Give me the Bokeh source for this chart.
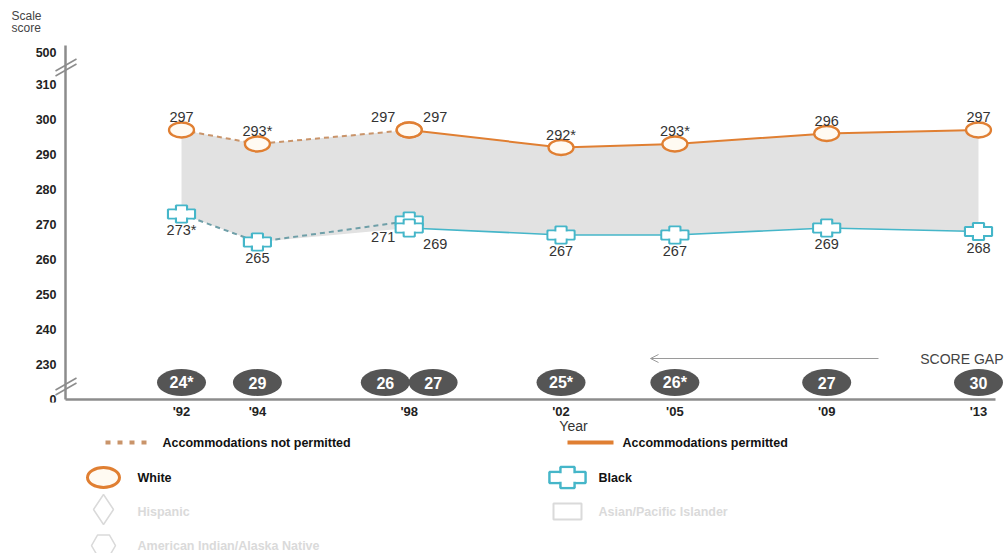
from bokeh.plotting import figure
from bokeh.layouts import column
from bokeh.models import Range1d, FixedTicker, Label, Arrow, OpenHead, LinearAxis
from bokeh.core.properties import value
from bokeh.embed import file_html
from bokeh.resources import INLINE

# ---------------- data ----------------
years_np = [1992, 1994, 1998]              # accommodations not permitted
white_np = [297, 293, 297]
white_np_sig = [False, True, False]
black_np = [273, 265, 271]
black_np_sig = [True, False, False]
gap_np = [24, 29, 26]
gap_np_sig = [True, False, False]

years_p = [1998, 2002, 2005, 2009, 2013]   # accommodations permitted
white_p = [297, 292, 293, 296, 297]
white_p_sig = [False, True, True, False, False]
black_p = [269, 267, 267, 269, 268]
black_p_sig = [False, False, False, False, False]
gap_p = [27, 25, 26, 27, 30]
gap_p_sig = [False, True, True, False, False]

year_tick_labels = ["'92", "'94", "'98", "'02", "'05", "'09", "'13"]
score_ticks = [0, 230, 240, 250, 260, 270, 280, 290, 300, 310, 500]

# ---------------- styling / layout ----------------
FONT = "Liberation Sans"
ORANGE = "#e07f32"
ORANGE_DASH = "#c9946a"
TEAL = "#45b6c9"
TEAL_DASH = "#6f9fa8"
BAND = "#e2e2e2"
GAPC = "#555555"
TXT = "#333333"
AXC = "#8c8c8c"

W = 1006
FW, FH = 1006, 402          # plot frame (page pixels 0..1006 x 0..402)
H_TOP = 437                 # expected height of the upper figure incl. its axes
H_LEG = 554 - H_TOP
PX_YEAR = 797 / 21.0
X0 = 1992 - 181 / PX_YEAR
X1 = X0 + FW / PX_YEAR
PX_UNIT = 3.5
Y0 = 230 - (FH - 364) / PX_UNIT
Y1 = Y0 + FH / PX_UNIT


def xd(px):
    return X0 + px / PX_YEAR


def yd(py):
    return Y0 + (FH - py) / PX_UNIT


BREAK_HI, BREAK_LO = yd(52), yd(399)


def disp(v):
    if v > 310:
        return BREAK_HI
    if v < 230:
        return BREAK_LO
    return v


def star(vals, sig):
    return [f"{v}*" if s else f"{v}" for v, s in zip(vals, sig)]


shared = set(years_np) & set(years_p)
off_np = [-26 if y in shared else 0 for y in years_np]
off_p = [26 if y in shared else 0 for y in years_p]

p = figure(frame_width=FW, frame_height=FH, x_range=Range1d(X0, X1), y_range=Range1d(Y0, Y1),
           output_backend="svg", toolbar_location=None, y_axis_location=None,
           min_border_left=0, min_border_right=0, min_border_top=0, min_border_bottom=0)
p.grid.visible = False
p.outline_line_color = None
p.background_fill_color = "white"
p.border_fill_color = "white"

# x axis (ticks as labels only; line drawn below)
all_years = sorted(set(years_np) | set(years_p))
p.xaxis.ticker = FixedTicker(ticks=all_years)
p.xaxis.major_label_overrides = {y: lab for y, lab in zip(all_years, year_tick_labels)}
p.xaxis.axis_line_color = None
p.xaxis.major_tick_line_color = None
p.xaxis.minor_tick_line_color = None
p.xaxis.major_tick_out = 0
p.xaxis.major_tick_in = 0
p.xaxis.minor_tick_out = 0
p.xaxis.minor_tick_in = 0
p.xaxis.major_label_text_font = FONT
p.xaxis.major_label_text_font_style = "bold"
p.xaxis.major_label_text_color = "#222222"
p.xaxis.major_label_text_font_size = "13px"
p.xaxis.major_label_standoff = 1

YEAR_X = xd(573)
year_axis = LinearAxis(ticker=FixedTicker(ticks=[YEAR_X]), major_label_overrides={YEAR_X: "Year"},
                       axis_line_color=None, major_tick_line_color=None, minor_tick_line_color=None,
                       major_tick_out=0, major_tick_in=0, minor_tick_out=0, minor_tick_in=0,
                       major_label_standoff=-4, major_label_text_font=FONT,
                       major_label_text_font_size="14px", major_label_text_color=TXT)
p.add_layout(year_axis, "below")

# axis lines
p.line([xd(65), xd(65)], [yd(45), yd(399)], line_color=AXC, line_width=2.5)
p.line([xd(65), xd(995)], [yd(399), yd(399)], line_color=AXC, line_width=2.5)

# y tick labels (broken scale)
p.text([xd(56)] * len(score_ticks), [disp(v) for v in score_ticks], text=[str(v) for v in score_ticks],
       text_font=value(FONT), text_font_size="12.5px", text_font_style="bold", text_color="#222222",
       text_align="right", text_baseline="middle")

# band between groups
band_x = years_np[:-1] + years_p
band_top = white_np[:-1] + white_p
band_bot = black_np[:-1] + black_p
p.varea(x=band_x, y1=band_bot, y2=band_top, fill_color=BAND)

# lines
p.line(years_np, white_np, line_color=ORANGE_DASH, line_width=2, line_dash="5 4")
p.line(years_np, black_np, line_color=TEAL_DASH, line_width=2, line_dash="5 4")
p.line(years_p, white_p, line_color=ORANGE, line_width=2)
p.line(years_p, black_p, line_color=TEAL, line_width=1.6)


def draw_cross(fig, xs, ys, w, h, aw, ah, lw):
    kw = dict(width_units="screen", height_units="screen")
    fig.rect(xs, ys, width=w, height=ah, fill_color="white", line_color=TEAL, line_width=lw, **kw)
    fig.rect(xs, ys, width=aw, height=h, fill_color="white", line_color=TEAL, line_width=lw, **kw)
    fig.rect(xs, ys, width=w - lw, height=ah - lw, fill_color="white", line_color=None, **kw)
    fig.rect(xs, ys, width=aw - lw, height=h - lw, fill_color="white", line_color=None, **kw)


# markers
for yrs, vals in ((years_np, white_np), (years_p, white_p)):
    p.ellipse(yrs, vals, width=25, height=15, width_units="screen", height_units="screen",
              fill_color="#fffaf2", line_color=ORANGE, line_width=2.3)
draw_cross(p, years_np, black_np, 27, 17, 11, 9, 2.2)
draw_cross(p, years_p, black_p, 27, 17, 11, 9, 2.2)

# value labels
lab_kw = dict(text_font=value(FONT), text_font_size="14.5px", text_color=TXT,
              text_align="center", text_baseline="middle")
p.text(years_np, white_np, text=star(white_np, white_np_sig), x_offset=off_np, y_offset=-13, **lab_kw)
p.text(years_p, white_p, text=star(white_p, white_p_sig), x_offset=off_p, y_offset=-13, **lab_kw)
p.text(years_np, black_np, text=star(black_np, black_np_sig), x_offset=off_np, y_offset=16, **lab_kw)
p.text(years_p, black_p, text=star(black_p, black_p_sig), x_offset=off_p, y_offset=16, **lab_kw)

# score gap ellipses
GAP_Y = yd(382)
gx = [y + o * 0.92 / PX_YEAR for y, o in zip(years_np, off_np)] + \
     [y + o * 0.92 / PX_YEAR for y, o in zip(years_p, off_p)]
gv = star(gap_np, gap_np_sig) + star(gap_p, gap_p_sig)
gy = [GAP_Y] * len(gx)
p.ellipse(gx, gy, width=49, height=27, width_units="screen", height_units="screen",
          fill_color=GAPC, line_color=None)
p.text(gx, gy, text=gv, text_font=value(FONT), text_font_size="16px", text_font_style="bold",
       text_color="white", text_align="center", text_baseline="middle")

# score gap arrow and label
p.add_layout(Arrow(end=OpenHead(size=8, line_color="#9a9a9a", line_width=1),
                   x_start=xd(878), y_start=yd(358), x_end=xd(650), y_end=yd(358),
                   line_color="#9a9a9a", line_width=1))
p.add_layout(Label(x=xd(1003), y=yd(358), text="SCORE GAP", text_align="right",
                   text_baseline="middle", text_font=FONT, text_font_size="14px",
                   text_color="#444444"))

# y axis title
p.add_layout(Label(x=xd(11), y=yd(15), text="Scale", text_align="left",
                   text_baseline="middle", text_font=FONT, text_font_size="12px", text_color="#444444"))
p.add_layout(Label(x=xd(11), y=yd(27), text="score", text_align="left",
                   text_baseline="middle", text_font=FONT, text_font_size="12px", text_color="#444444"))

# axis break marks
for cy in (67, 386):
    for dy in (-2.5, 2.5):
        p.add_layout(Arrow(end=None, x_start=xd(55), y_start=yd(cy + dy + 6),
                           x_end=xd(76), y_end=yd(cy + dy - 6),
                           line_color=AXC, line_width=1.6))

# ---------------- legend figure ----------------
q = figure(width=W, height=H_LEG, x_range=Range1d(0, W), y_range=Range1d(H_LEG, 0),
           output_backend="svg", toolbar_location=None, x_axis_type=None, y_axis_type=None,
           min_border=0)
q.grid.visible = False
q.outline_line_color = None

LY = [443 - H_TOP, 478 - H_TOP, 512 - H_TOP, 546 - H_TOP]
leg_kw = dict(text_font=value(FONT), text_font_size="12.5px", text_font_style="bold",
              text_align="left", text_baseline="middle")
q.line([105, 150], [LY[0], LY[0]], line_color=ORANGE_DASH, line_width=4, line_dash="5 7")
q.text([162], [LY[0]], text=["Accommodations not permitted"], text_color="#111111", **leg_kw)
q.line([567, 613], [LY[0], LY[0]], line_color=ORANGE, line_width=4)
q.text([622], [LY[0]], text=["Accommodations permitted"], text_color="#111111", **leg_kw)

q.ellipse([103], [LY[1]], width=32, height=20, width_units="screen", height_units="screen",
          fill_color="#fffaf2", line_color=ORANGE, line_width=3)
q.text([137], [LY[1]], text=["White"], text_color="#111111", **leg_kw)
draw_cross(q, [567], [LY[1]], 36, 21, 14, 11, 2.6)
q.text([598], [LY[1]], text=["Black"], text_color="#111111", **leg_kw)

LIGHT = "#dadada"
q.scatter([103], [LY[2] - 2], marker="diamond", size=30, fill_color="white",
          line_color=LIGHT, line_width=1.5)
q.text([137], [LY[2]], text=["Hispanic"], text_color=LIGHT, **leg_kw)
q.rect([567], [LY[2]], width=28, height=16, width_units="screen", height_units="screen",
       fill_color="white", line_color=LIGHT, line_width=2)
q.text([598], [LY[2]], text=["Asian/Pacific Islander"], text_color=LIGHT, **leg_kw)
q.scatter([103], [LY[3]], marker="hex", size=24, fill_color="white",
          line_color=LIGHT, line_width=1.5)
q.text([137], [LY[3]], text=["American Indian/Alaska Native"], text_color=LIGHT, **leg_kw)

layout = column(p, q, spacing=0)
open("out.html", "w").write(file_html(layout, INLINE))
